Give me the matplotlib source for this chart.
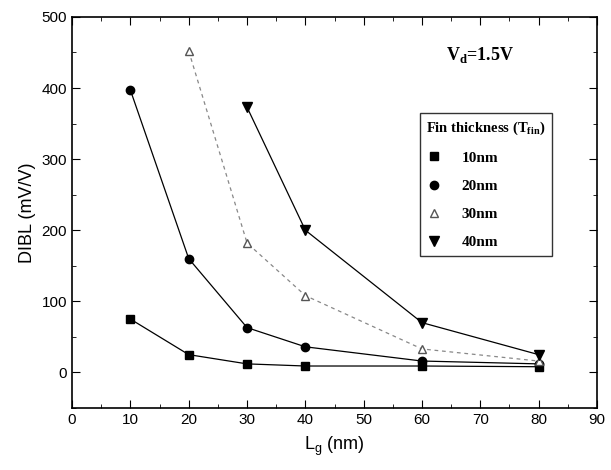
import numpy as np
from matplotlib import pyplot as plt
from matplotlib.ticker import MultipleLocator

# datos
lg_10 = [10, 20, 30, 40, 60, 80]
dibl_10 = [75, 25, 12, 9, 9, 8]

lg_20 = [10, 20, 30, 40, 60, 80]
dibl_20 = [397, 160, 63, 36, 16, 12]

lg_30 = [20, 30, 40, 60, 80]
dibl_30 = [452, 182, 108, 33, 16]

lg_40 = [30, 40, 60, 80]
dibl_40 = [373, 200, 70, 25]

etiquetas = ["10nm", "20nm", "30nm", "40nm"]

plt.rcParams['font.family'] = ['Liberation Sans', 'DejaVu Sans']

fig = plt.figure(figsize=(6.11, 4.70), dpi=100)
ax = fig.add_axes([0.118, 0.132, 0.859, 0.832])

ms = 6
ax.plot(lg_10, dibl_10, color='black', lw=0.9, marker='s', ms=ms, label=etiquetas[0])
ax.plot(lg_20, dibl_20, color='black', lw=0.9, marker='o', ms=ms, label=etiquetas[1])
ax.plot(lg_30, dibl_30, color='#888888', lw=0.9, ls=(0, (3, 3)), marker='^', ms=ms,
        mfc='white', mec='#555555', label=etiquetas[2])
ax.plot(lg_40, dibl_40, color='black', lw=0.9, marker='v', ms=ms + 1, label=etiquetas[3])

ax.set_xlim(0, 90)
ax.set_ylim(-50, 500)
ax.xaxis.set_major_locator(MultipleLocator(10))
ax.xaxis.set_minor_locator(MultipleLocator(5))
ax.yaxis.set_major_locator(MultipleLocator(100))
ax.yaxis.set_minor_locator(MultipleLocator(50))
ax.tick_params(which='both', direction='in', top=True, right=True, labelsize=11)
ax.tick_params(which='major', length=6)
ax.tick_params(which='minor', length=3)
for s in ax.spines.values():
    s.set_linewidth(1.2)

ax.set_xlabel("L$_\\mathregular{g}$ (nm)", fontsize=13, labelpad=6)
ax.set_ylabel("DIBL (mV/V)", fontsize=13)

ax.text(70, 446, "V$_\\mathregular{d}$=1.5V", fontsize=13, fontweight='bold',
        family=['Liberation Serif'], ha='center', va='center')

leg = ax.legend(title="Fin thickness (T$_\\mathregular{fin}$)", loc='upper left',
                bbox_to_anchor=(0.663, 0.754), borderaxespad=0, frameon=True,
                fancybox=False, edgecolor='black', handlelength=1.0,
                handletextpad=1.3, labelspacing=0.95, borderpad=0.4,
                prop={'family': 'Liberation Serif', 'weight': 'bold', 'size': 11})
leg.get_frame().set_linewidth(1.0)
leg.get_title().set_fontfamily('Liberation Serif')
leg.get_title().set_fontweight('bold')
leg.get_title().set_fontsize(10.5)
leg._legend_box.align = "left"
for h in leg.legend_handles:
    h.set_linestyle('None')

fig.savefig("out.png", dpi=100)
